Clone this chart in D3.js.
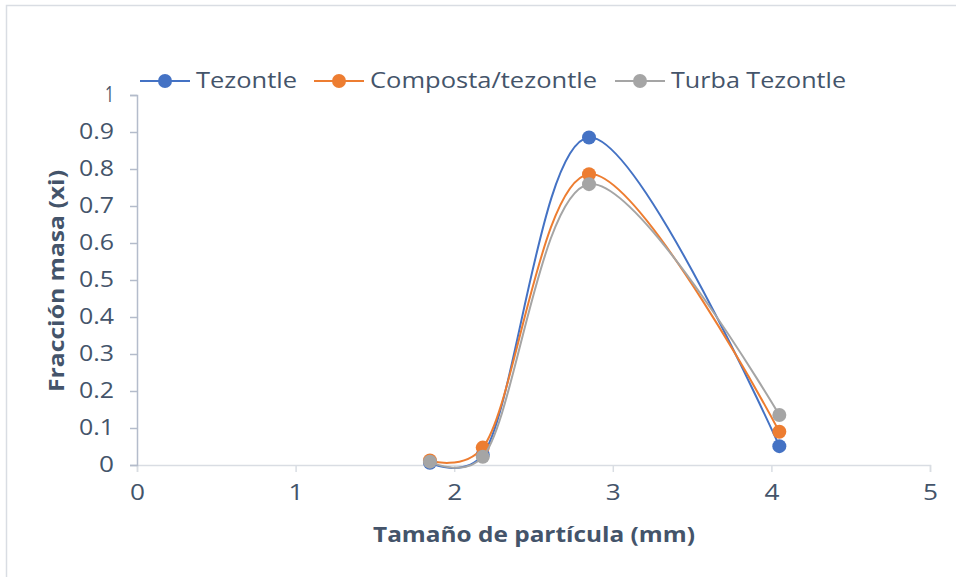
<!DOCTYPE html>
<html>
<head>
<meta charset="utf-8">
<script src="https://cdn.jsdelivr.net/npm/d3@7"></script>
<style>
html,body{margin:0;padding:0;background:#fff;}
svg text{font-family:"Open Sans","Noto Sans",sans-serif;fill:#44546a;}
</style>
</head>
<body>
<svg id="chart" width="956" height="577"></svg>
<script>
const xValues = [1.847, 2.18, 2.85, 4.05];
const seriesNames = ["Tezontle", "Composta/tezontle", "Turba Tezontle"];
const tezontle = [0.006, 0.028, 0.885, 0.051];
const composta = [0.012, 0.047, 0.786, 0.09];
const turba = [0.009, 0.022, 0.759, 0.135];
const colors = ["#4472c4", "#ed7d31", "#a5a5a5"];
const xTicks = [0, 1, 2, 3, 4, 5];
const yTicks = [0, 0.1, 0.2, 0.3, 0.4, 0.5, 0.6, 0.7, 0.8, 0.9, 1];

const svg = d3.select("#chart");
svg.append("rect").attr("x", 6.5).attr("y", 5.5).attr("width", 1000).attr("height", 1000)
  .attr("fill", "#fff").attr("stroke", "#d9dde3").attr("stroke-width", 1.5);

const x = d3.scaleLinear().domain([0, 5]).range([137, 930]);
const y = d3.scaleLinear().domain([0, 1]).range([465, 95]);

// x axis
const gx = svg.append("g").attr("transform", `translate(0,${y(0)})`)
  .call(d3.axisBottom(x).tickValues(xTicks).tickFormat(d3.format("d")).tickSizeOuter(0).tickSize(7).tickPadding(13));
gx.select(".domain").attr("stroke", "#d9dde3").attr("stroke-width", 1.5);
gx.selectAll(".tick line").attr("stroke", "#d9dde3").attr("stroke-width", 1.5);
gx.selectAll(".tick text").attr("font-size", 21).style("fill", "#44546a").attr("textLength", 15).attr("lengthAdjust", "spacingAndGlyphs");

// y axis
const gy = svg.append("g").attr("transform", `translate(${x(0)},0)`)
  .call(d3.axisLeft(y).tickValues(yTicks).tickFormat(d => d === 0 || d === 1 ? d3.format("d")(d) : d3.format(".1f")(d)).tickSizeOuter(0).tickSize(7).tickPadding(16));
gy.select(".domain").attr("stroke", "#b4bccb").attr("stroke-width", 1.5);
gy.selectAll(".tick line").attr("stroke", "#b4bccb").attr("stroke-width", 1.5);
gy.selectAll(".tick text").attr("font-size", 21).style("fill", "#44546a")
  .attr("textLength", d => (d === 0 ? 15 : d === 1 ? 9 : 35)).attr("lengthAdjust", "spacingAndGlyphs");

// axis titles
svg.append("text").attr("x", 534).attr("y", 542).attr("text-anchor", "middle")
  .attr("font-size", 21).attr("font-weight", "bold")
  .attr("textLength", 322).attr("lengthAdjust", "spacingAndGlyphs").text("Tamaño de partícula (mm)");
svg.append("text").attr("transform", "translate(64,281) rotate(-90)").attr("text-anchor", "middle")
  .attr("font-size", 21).attr("font-weight", "bold")
  .attr("textLength", 222).attr("lengthAdjust", "spacingAndGlyphs").text("Fracción masa (xi)");

const allSeries = [tezontle, composta, turba];
const line = d3.line().x((d, i) => x(xValues[i])).y(d => y(d)).curve(d3.curveCatmullRom.alpha(0.3));

allSeries.forEach((s, k) => {
  const g = svg.append("g");
  g.append("path").datum(s).attr("d", line).attr("fill", "none")
    .attr("stroke", colors[k]).attr("stroke-width", 2);
  g.selectAll("circle").data(s).join("circle")
    .attr("cx", (d, i) => x(xValues[i])).attr("cy", d => y(d)).attr("r", 7)
    .attr("fill", colors[k]);
});

// legend
const legendItems = [{lx: 140, tx: 196, w: 101}, {lx: 314, tx: 370, w: 227}, {lx: 615, tx: 671, w: 175}];
const ly = 81;
seriesNames.forEach((name, k) => {
  const it = legendItems[k];
  const g = svg.append("g");
  g.append("line").attr("x1", it.lx).attr("x2", it.lx + 50).attr("y1", ly).attr("y2", ly)
    .attr("stroke", colors[k]).attr("stroke-width", 2);
  g.append("circle").attr("cx", it.lx + 25).attr("cy", ly).attr("r", 7).attr("fill", colors[k]);
  g.append("text").attr("x", it.tx).attr("y", ly).attr("dy", "0.35em").attr("font-size", 21)
    .attr("textLength", it.w).attr("lengthAdjust", "spacingAndGlyphs").text(name);
});
</script>
</body>
</html>
